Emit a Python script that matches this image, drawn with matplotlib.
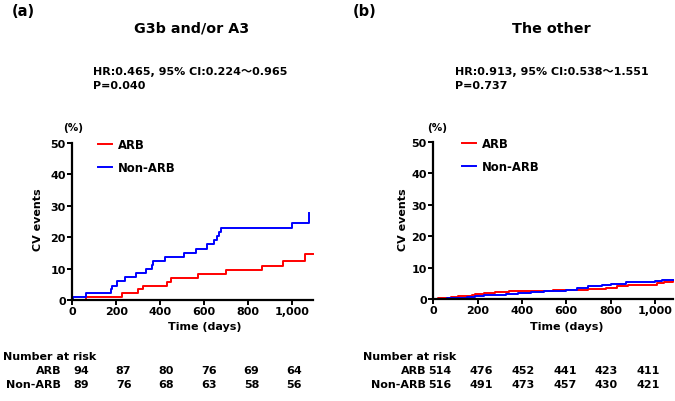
import matplotlib
matplotlib.use("Agg")
import matplotlib.pyplot as plt
import matplotlib.transforms as mtransforms

plt.rcParams['font.family'] = ['DejaVu Sans', 'Noto Sans CJK JP']
plt.rcParams['font.weight'] = 'bold'

# ---- data ----
# panel (a): G3b and/or A3  (days, cumulative %)
a_arb_days = [0, 62, 228, 301, 321, 430, 450, 574, 699, 863, 962, 1061, 1099]
a_arb_pct = [0, 1.1, 2.1, 3.4, 4.6, 5.8, 7.0, 8.2, 9.5, 10.8, 12.3, 14.6, 14.6]
a_non_days = [0, 3, 63, 175, 180, 202, 240, 290, 336, 362, 366, 421, 509, 564, 612, 646, 658, 670, 678, 1000, 1079, 1079]
a_non_pct = [0, 1.1, 2.2, 3.4, 4.6, 5.9, 7.2, 8.5, 9.8, 11.1, 12.4, 13.7, 15.1, 16.4, 17.7, 19.1, 20.4, 21.7, 23.0, 24.4, 24.4, 27.6]

# panel (b): the other
b_arb_days = [0, 20, 45, 80, 110, 150, 175, 190, 230, 265, 280, 340, 420, 480, 540, 600, 700, 780, 830, 880, 950,
              1010, 1040, 1083, 1083]
b_arb_pct = [0, 0.2, 0.4, 0.6, 0.8, 1.0, 1.2, 1.6, 1.8, 2.0, 2.2, 2.4, 2.5, 2.6, 2.8, 3.0, 3.1, 3.4, 4.0, 4.3, 4.5,
             5.0, 5.3, 5.3, 5.9]
b_non_days = [0, 60, 100, 150, 190, 230, 280, 330, 380, 440, 500, 560, 600, 650, 700, 760, 800, 870, 1000, 1030, 1083]
b_non_pct = [0, 0.2, 0.4, 0.6, 0.8, 1.2, 1.4, 1.7, 2.0, 2.2, 2.4, 2.7, 3.0, 3.5, 4.1, 4.5, 4.8, 5.4, 5.6, 6.0, 6.0]

risk_days = [0, 200, 400, 600, 800, 1000]
a_risk_arb = [94, 87, 80, 76, 69, 64]
a_risk_non = [89, 76, 68, 63, 58, 56]
b_risk_arb = [514, 476, 452, 441, 423, 411]
b_risk_non = [516, 491, 473, 457, 430, 421]

W, H = 675, 402
FS = 8
fig = plt.figure(figsize=(W / 100, H / 100), dpi=100)


def px(x, y):
    return x / W, 1 - y / H


def km_panel(rect, xmax, arb, non, letter, title, hr, p, xs):
    ax = fig.add_axes(rect)
    ax.step(arb[0], arb[1], where='post', color='#ff0000', lw=1.4, clip_on=False, label='ARB')
    ax.step(non[0], non[1], where='post', color='#0000ff', lw=1.4, clip_on=False, label='Non-ARB')
    ax.set_xlim(0, xmax)
    ax.set_ylim(0, 50)
    ax.set_xticks([0, 200, 400, 600, 800, 1000])
    ax.set_xticklabels(['0', '200', '400', '600', '800', '1,000'])
    ax.set_yticks([0, 10, 20, 30, 40, 50])
    for s in ['top', 'right']:
        ax.spines[s].set_visible(False)
    for s in ['left', 'bottom']:
        ax.spines[s].set_linewidth(1.6)
    ax.tick_params(direction='out', length=3.5, width=1.4, labelsize=FS)
    ax.tick_params(axis='x', pad=0.5)
    ax.tick_params(axis='y', pad=1.2)
    for t in ax.get_xticklabels() + ax.get_yticklabels():
        t.set_fontweight('bold')
    ax.legend(loc='upper left', bbox_to_anchor=(xs['leg'], 1.03), frameon=False, fontsize=8.4,
              handlelength=1.2, handletextpad=0.5, labelspacing=0.85, borderpad=0, borderaxespad=0)

    fig.text(*px(xs['letter'], 12), letter, fontsize=10.5, fontweight='bold', ha='left', va='center')
    fig.text(*px(xs['title'], 29), title, fontsize=10.3, fontweight='bold', ha='center', va='center')
    fig.text(*px(xs['hr'], 72), hr, fontsize=FS, fontweight='bold', ha='left', va='center')
    fig.text(*px(xs['hr'], 86), p, fontsize=FS, fontweight='bold', ha='left', va='center')
    fig.text(*px(xs['pct'], 128), '(%)', fontsize=7.5, fontweight='bold', ha='center', va='center')
    fig.text(*px(xs['ylab'], 220), 'CV events', fontsize=FS, fontweight='bold', rotation=90,
             ha='center', va='center')
    fig.text(*px(xs['xlab'], 327.5), 'Time (days)', fontsize=FS, fontweight='bold', ha='center', va='center')
    return ax


def risk_table(xs, arb_n, non_n):
    fig.text(*px(xs['nar'], 357), 'Number at risk', fontsize=FS, fontweight='bold', ha='left', va='center')
    fig.text(*px(xs['rowlab'], 371), 'ARB', fontsize=FS, fontweight='bold', ha='right', va='center')
    fig.text(*px(xs['rowlab'], 385), 'Non-ARB', fontsize=FS, fontweight='bold', ha='right', va='center')
    # the table columns sit on their own (hidden) day scale, slightly narrower than the plot
    x0, x1 = xs['tab']
    tab = fig.add_axes([x0 / W, 0.01, (x1 - x0) / W, 0.05])
    tab.set_xlim(0, 1000)
    tab.axis('off')
    tr = mtransforms.blended_transform_factory(tab.transData, fig.transFigure)
    for d, n1, n2 in zip(risk_days, arb_n, non_n):
        tab.text(d, 1 - 371 / H, str(n1), transform=tr, fontsize=FS, fontweight='bold', ha='center', va='center')
        tab.text(d, 1 - 385 / H, str(n2), transform=tr, fontsize=FS, fontweight='bold', ha='center', va='center')


xs_a = dict(letter=12, title=192, hr=92.7, pct=73, ylab=38, xlab=205, nar=3, rowlab=61, leg=0.107, tab=(81, 294))
km_panel([72.3 / W, 1 - 301 / H, 240.4 / W, 157 / H], 1096,
         (a_arb_days, a_arb_pct), (a_non_days, a_non_pct),
         '(a)', 'G3b and/or A3', 'HR:0.465, 95% CI:0.224～0.965', 'P=0.040', xs_a)
risk_table(xs_a, a_risk_arb, a_risk_non)

xs_b = dict(letter=352.7, title=551, hr=455, pct=437, ylab=403, xlab=567, nar=363, rowlab=426, leg=0.12,
            tab=(440, 648))
km_panel([433.3 / W, 1 - 300 / H, 239.4 / W, 157.3 / H], 1080,
         (b_arb_days, b_arb_pct), (b_non_days, b_non_pct),
         '(b)', 'The other', 'HR:0.913, 95% CI:0.538～1.551', 'P=0.737', xs_b)
risk_table(xs_b, b_risk_arb, b_risk_non)

fig.savefig('out.png', dpi=100)
